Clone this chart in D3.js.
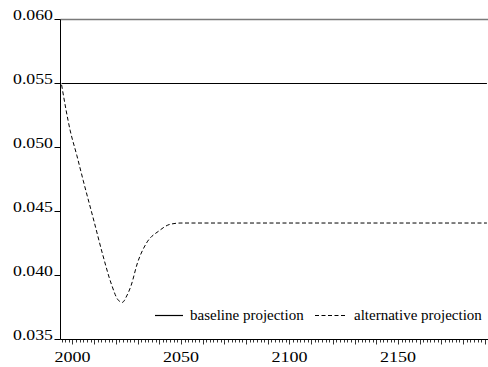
<!DOCTYPE html>
<html>
<head>
<meta charset="utf-8">
<script src="https://cdn.jsdelivr.net/npm/d3@7"></script>
<style>
  html, body { margin: 0; padding: 0; background: #fff; }
  svg { display: block; }
</style>
</head>
<body>
<div id="chart"></div>
<script>
// baseline: constant rate over the whole horizon
const baselineYears = [1995, 2191];
const baselineValues = [0.0550, 0.0550];

// alternative
const altYears  = [1995, 1999, 2002, 2005, 2010, 2014, 2018, 2021, 2023, 2025, 2027, 2030, 2034, 2040, 2045, 2050, 2191];
const altValues = [0.0549, 0.0513, 0.0494, 0.0474, 0.0442, 0.0416, 0.0393, 0.0381, 0.0379, 0.0384, 0.0392, 0.0410, 0.0425, 0.0435, 0.0440, 0.0441, 0.0441];

const yTicks = [0.035, 0.040, 0.045, 0.050, 0.055, 0.060];
const xLabels = [2000, 2050, 2100, 2150];

const FONT = "'Liberation Serif'";
const W = 488, H = 367;
const M = { top: 19.5, right: 0, bottom: 27.5, left: 60.5 };

const svg = d3.select('#chart').append('svg')
  .attr('width', W).attr('height', H);

const x = d3.scaleLinear().domain([1994.5, 2191.5]).range([M.left, W - M.right]);
const y = d3.scaleLinear().domain([0.035, 0.060]).range([H - M.bottom, M.top]);

// frame: grey top edge, black left + bottom axes
svg.append('line')
  .attr('x1', M.left).attr('x2', W).attr('y1', y(0.060)).attr('y2', y(0.060))
  .attr('stroke', '#7a7a7a').attr('stroke-width', 1.4);

// lines
const line = d3.line().x(d => x(d[0])).y(d => y(d[1]));

svg.append('path')
  .datum(d3.zip(baselineYears, baselineValues))
  .attr('d', line)
  .attr('fill', 'none').attr('stroke', '#000').attr('stroke-width', 1.2);

svg.append('path')
  .datum(d3.zip(altYears, altValues))
  .attr('d', line.curve(d3.curveMonotoneX))
  .attr('fill', 'none').attr('stroke', '#000').attr('stroke-width', 1)
  .attr('stroke-dasharray', '4,2.5');

// y axis
svg.append('line')
  .attr('x1', M.left).attr('x2', M.left).attr('y1', y(0.060)).attr('y2', y(0.035))
  .attr('stroke', '#000');

const yt = svg.append('g').selectAll('g').data(yTicks).join('g')
  .attr('transform', d => `translate(0,${y(d)})`);
yt.append('line')
  .attr('x1', M.left - 6).attr('x2', M.left).attr('stroke', '#000');
yt.append('text')
  .attr('x', 53).attr('y', 0)
  .attr('text-anchor', 'end')
  .style('font-family', FONT)
  .attr('font-size', 14)
  .attr('textLength', 40).attr('lengthAdjust', 'spacingAndGlyphs')
  .text(d3.format('.3f'));

// x axis
const y0 = y(0.035);
svg.append('line')
  .attr('x1', M.left).attr('x2', W).attr('y1', y0).attr('y2', y0)
  .attr('stroke', '#000');

const minorTicks = d3.range(0, 120).map(i => 1995 + i * 10 / 6)
  .filter(d => x(d) > M.left + 1 && x(d) <= W);
svg.append('g').selectAll('line').data(minorTicks).join('line')
  .attr('x1', d => Math.round(x(d)) + 0.5).attr('x2', d => Math.round(x(d)) + 0.5)
  .attr('y1', y0).attr('y2', d => (Math.abs((d - 2000) % 10) < 0.01 ? y0 + 5 : y0 + 3))
  .attr('stroke', '#000').attr('stroke-width', 0.8);

svg.append('g').selectAll('text').data(xLabels).join('text')
  .attr('x', d => x(d)).attr('y', 361.5)
  .attr('text-anchor', 'middle')
  .style('font-family', FONT)
  .attr('font-size', 14)
  .attr('textLength', 36).attr('lengthAdjust', 'spacingAndGlyphs')
  .text(d => d);

// legend
const lg = svg.append('g').attr('transform', 'translate(0,315.5)');
lg.append('line').attr('x1', 155).attr('x2', 183).attr('stroke', '#000').attr('stroke-width', 1.2);
lg.append('text').attr('x', 190).attr('y', 4.5).style('font-family', FONT).attr('font-size', 15)
  .text('baseline projection');
lg.append('line').attr('x1', 315).attr('x2', 347).attr('stroke', '#000')
  .attr('stroke-dasharray', '4,2.5');
lg.append('text').attr('x', 354).attr('y', 4.5).style('font-family', FONT).attr('font-size', 15)
  .text('alternative projection');
</script>
</body>
</html>
